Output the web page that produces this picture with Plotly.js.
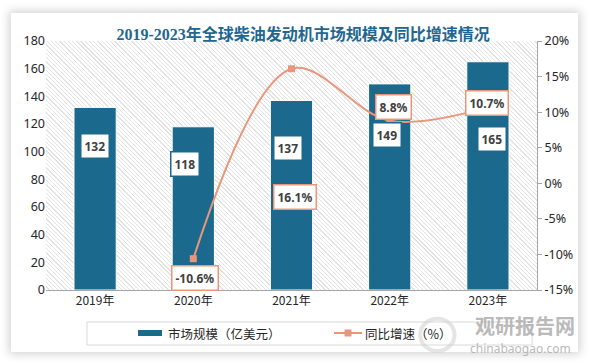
<!DOCTYPE html>
<html><head><meta charset="utf-8">
<script src="https://cdn.plot.ly/plotly-3.0.1.min.js"></script>
<style>
html,body{margin:0;padding:0;background:#fff;width:591px;height:364px;overflow:hidden;}
#card{position:absolute;left:11px;top:13px;width:567px;height:339px;background:#fff;box-shadow:0 0 9px 2px rgba(0,0,0,0.18);}
#hatch{position:absolute;left:46px;top:41px;width:491px;height:249px;background:repeating-linear-gradient(45deg,#ffffff 0px,#ffffff 2.1px,#e3e3e3 2.1px,#e3e3e3 3px);}
#chart{position:absolute;left:0;top:0;width:591px;height:364px;}
</style></head><body>
<div id="card"></div><div id="hatch"></div><div id="chart"></div>
<script>
// ---- data ----
const years = ['2019年', '2020年', '2021年', '2022年', '2023年'];
const marketSize = [132, 118, 137, 149, 165];          // 亿美元
const growth = [null, -10.6, 16.1, 8.8, 10.7];        // %
const leftTicks = [0, 20, 40, 60, 80, 100, 120, 140, 160, 180];
const rightTickVals = [-15, -10, -5, 0, 5, 10, 15, 20];
const rightTickText = ['-15%', '-10%', '-5%', '0%', '5%', '10%', '15%', '20%'];
const barName = '市场规模（亿美元）';
const lineName = '同比增速（%）';
const titleText = '2019-2023年全球柴油发动机市场规模及同比增速情况';

// ---- label placement (styling only) ----
const barLabelY = [104, 91, 103, 112, 109];
const barLabelShift = [0, -8, -4, -3, 4];
const lineLabelY = [null, -13.3, -1.9, 10.7, 11.3];
const lineLabelShift = [0, 2, 3, 4, -1];

const BLUE = '#1B6A8E';
const SALMON = '#E9967A';
const FONT = '"Noto Sans", "Noto Sans CJK SC", sans-serif';
const CJK = '"Noto Sans CJK SC", sans-serif';

const bar = {
  type: 'bar', x: years, y: marketSize, name: barName,
  marker: {color: BLUE, line: {color: '#ffffff', width: 1}},
  width: 0.43, hoverinfo: 'skip', showlegend: false
};
const line = {
  type: 'scatter', x: years, y: growth, name: lineName, yaxis: 'y2',
  mode: 'lines+markers', connectgaps: false,
  line: {color: SALMON, width: 2, shape: 'spline', smoothing: 1},
  marker: {color: SALMON, symbol: 'square', size: 7},
  hoverinfo: 'skip', showlegend: false
};

const annotations = [];
years.forEach((yr, i) => {
  annotations.push({
    x: yr, y: barLabelY[i], xref: 'x', yref: 'y', text: '<b>' + marketSize[i] + '</b>',
    showarrow: false, xshift: barLabelShift[i],
    font: {family: FONT, size: 12, color: '#404040'},
    bgcolor: '#ffffff', bordercolor: BLUE, borderwidth: 1.5, borderpad: 3
  });
  if (growth[i] !== null) {
    annotations.push({
      x: yr, y: lineLabelY[i], xref: 'x', yref: 'y2', text: '<b>' + growth[i].toFixed(1) + '%</b>',
      showarrow: false, xshift: lineLabelShift[i],
      font: {family: FONT, size: 12, color: '#404040'},
      bgcolor: '#ffffff', bordercolor: SALMON, borderwidth: 1.5, borderpad: 3
    });
  }
});
// custom legend texts
annotations.push({xref: 'paper', yref: 'paper', x: 0.2444, y: -0.1727, xanchor: 'left', yanchor: 'middle',
  text: barName, showarrow: false, font: {family: CJK, size: 12.5, color: '#262626'}});
annotations.push({xref: 'paper', yref: 'paper', x: 0.6456, y: -0.1727, xanchor: 'left', yanchor: 'middle',
  text: lineName, showarrow: false, font: {family: CJK, size: 12.5, color: '#262626'}});
// watermark
annotations.push({
  xref: 'paper', yref: 'paper', x: 0.975, y: -0.141, xanchor: 'center', yanchor: 'middle',
  text: '<b>观研报告网</b>', showarrow: false,
  font: {family: CJK, size: 20, color: '#aaaaaa'}, opacity: 0.8
});
annotations.push({
  xref: 'paper', yref: 'paper', x: 0.967, y: -0.236, xanchor: 'center', yanchor: 'middle',
  text: 'chinabaogao.com', showarrow: false,
  font: {family: FONT, size: 12, color: '#aaaaaa'}, opacity: 0.8
});

const layout = {
  width: 591, height: 364,
  margin: {l: 46, r: 54, t: 41, b: 74},
  paper_bgcolor: 'rgba(0,0,0,0)', plot_bgcolor: 'rgba(0,0,0,0)',
  font: {family: FONT, size: 12, color: '#262626'},
  title: {
    text: '<b>' + titleText + '</b>', x: 0.513, xanchor: 'center', xref: 'container',
    y: 0.905, yref: 'container', yanchor: 'middle',
    font: {family: '"Liberation Serif", "Noto Sans CJK SC", serif', size: 16, color: '#1F6790'}
  },
  xaxis: {type: 'category', showline: true, linecolor: '#a6a6a6', linewidth: 1, ticks: '',
          showgrid: false, tickfont: {size: 12, family: CJK}},
  yaxis: {range: [0, 180], tickvals: leftTicks, showgrid: false, zeroline: false, ticks: '',
          showline: false, tickfont: {size: 12.5}},
  yaxis2: {overlaying: 'y', side: 'right', range: [-15, 20], tickvals: rightTickVals, ticktext: rightTickText,
           showgrid: false, zeroline: false, showline: true, linecolor: '#a6a6a6',
           ticks: 'outside', ticklen: 4, tickcolor: '#a6a6a6', tickfont: {size: 12.5}},
  showlegend: false,
  shapes: [
    // legend frame
    {type: 'rect', xref: 'paper', yref: 'paper', x0: 0.0835, x1: 0.99, y0: -0.221, y1: -0.1285,
     line: {color: '#d9d9d9', width: 1}, fillcolor: 'rgba(0,0,0,0)', layer: 'below'},
    // legend swatches
    {type: 'rect', xref: 'paper', yref: 'paper', x0: 0.1874, x1: 0.2363, y0: -0.1847, y1: -0.1606,
     line: {width: 0}, fillcolor: BLUE},
    {type: 'line', xref: 'paper', yref: 'paper', x0: 0.5866, x1: 0.6436, y0: -0.1727, y1: -0.1727,
     line: {color: SALMON, width: 2}},
    {type: 'rect', xref: 'paper', yref: 'paper', x0: 0.6080, x1: 0.6222, y0: -0.1867, y1: -0.1586,
     line: {width: 0}, fillcolor: SALMON},
    // watermark swirl
    {type: 'circle', xref: 'paper', yref: 'paper', x0: 0.762, x1: 0.832, y0: -0.245, y1: -0.115,
     line: {color: '#d4d4d4', width: 4}, fillcolor: 'rgba(0,0,0,0)', opacity: 0.6}
  ],
  annotations: annotations
};

Plotly.newPlot('chart', [bar, line], layout, {displayModeBar: false, staticPlot: true});
</script>
</body></html>
